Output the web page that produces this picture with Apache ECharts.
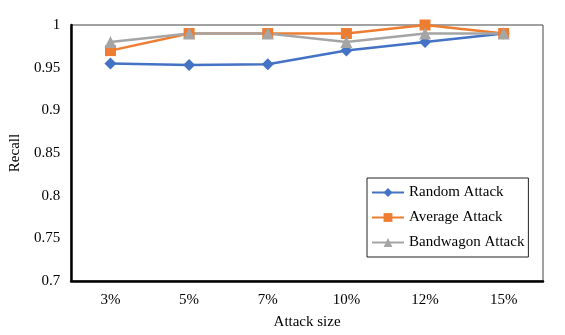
<!DOCTYPE html>
<html><head><meta charset="utf-8">
<script src="https://cdn.jsdelivr.net/npm/echarts@6/dist/echarts.min.js"></script>
<style>html,body{margin:0;padding:0;background:#fff}#c{width:565px;height:335px}</style>
</head><body><div id="c"></div>
<script>
const categories = ['3%','5%','7%','10%','12%','15%'];
const randomAttack = [0.955, 0.953, 0.954, 0.970, 0.980, 0.990];
const averageAttack = [0.970, 0.990, 0.990, 0.990, 1.000, 0.990];
const bandwagonAttack = [0.980, 0.990, 0.990, 0.980, 0.990, 0.990];
const seriesNames = ['Random Attack','Average Attack','Bandwagon Attack'];
const font = 'Liberation Serif';
const chart = echarts.init(document.getElementById('c'));
function s(name, data, color, symbol, size){
  return {name, type:'line', data, symbol, symbolSize:size, color,
    lineStyle:{width:2.5,color}, itemStyle:{color}, animation:false};
}
chart.setOption({
  animation:false,
  grid:{left:64,right:22,top:25,bottom:52,show:true,borderColor:'#444',borderWidth:1},
  legend:{orient:'vertical',left:367,top:178,width:160,itemGap:10,
    backgroundColor:'#fff',borderColor:'#222',borderWidth:1,padding:[7,4,7,4],
    itemWidth:32,itemHeight:11,
    textStyle:{fontFamily:font,fontSize:15,color:'#000'},
    data:seriesNames},
  xAxis:{type:'category',data:categories,boundaryGap:true,
    name:'Attack size',nameLocation:'middle',nameGap:34,
    nameTextStyle:{fontFamily:font,fontSize:15,color:'#000'},
    axisLine:{lineStyle:{color:'#000',width:2.5}},axisTick:{show:false},
    axisLabel:{fontFamily:font,fontSize:15,color:'#000',margin:12}},
  yAxis:{type:'value',min:0.7,max:1,interval:0.05,
    name:'Recall',nameLocation:'middle',nameGap:44,
    nameTextStyle:{fontFamily:font,fontSize:15,color:'#000'},
    axisLine:{show:true,lineStyle:{color:'#000',width:2.5}},axisTick:{show:false},
    splitLine:{show:false},
    axisLabel:{fontFamily:font,fontSize:15,color:'#000',margin:11,
      formatter:v=>String(+v.toFixed(2))}},
  series:[
    s(seriesNames[0],randomAttack,'#4472C4','diamond',12),
    s(seriesNames[1],averageAttack,'#ED7D31','rect',11),
    s(seriesNames[2],bandwagonAttack,'#A5A5A5','triangle',12)
  ]
});
</script></body></html>
